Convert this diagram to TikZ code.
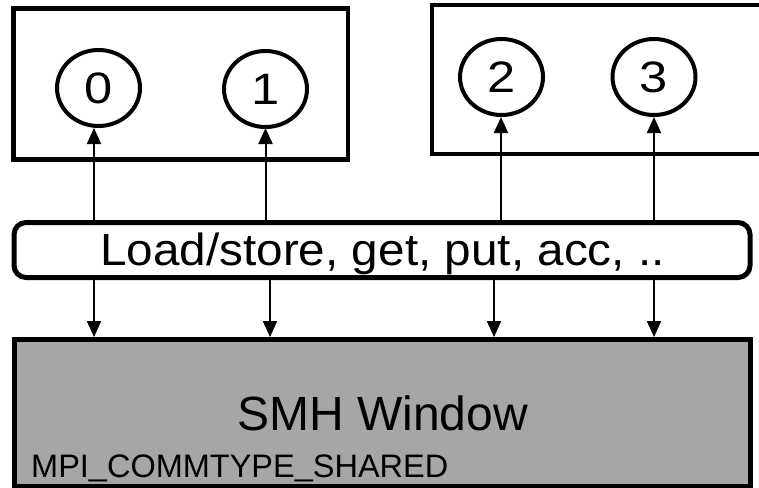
\documentclass[tikz,border=0pt]{standalone}
\usepackage{fontspec}
\setmainfont{Liberation Sans}
\usetikzlibrary{arrows.meta,shapes.geometric}
\definecolor{smhgray}{RGB}{166,166,166}
\newcommand{\us}{\raisebox{2pt}{\char"5F}}
\begin{document}
\begin{tikzpicture}[x=1pt,y=-1pt,
  hostbox/.style={draw,line width=4.5pt,rectangle,inner sep=0pt},
  rankc/.style={draw,line width=4pt,ellipse,inner sep=0pt,minimum width=83pt,minimum height=76pt,font=\fontsize{44}{46}\selectfont},
  opbox/.style={draw,line width=5pt,rectangle,rounded corners=12pt,inner sep=0pt,minimum width=736pt,minimum height=55pt},
  winbox/.style={draw,line width=5pt,rectangle,fill=smhgray,inner sep=0pt,minimum width=736pt,minimum height=147pt},
  arr/.style={line width=2pt,-{Triangle[width=14pt,length=16pt]}},
  txt/.style={inner sep=0pt}]
\clip (0,0) rectangle (759,487);
\fill[white] (0,0) rectangle (759,487);
% host boxes
\node[hostbox,minimum width=334.5pt,minimum height=151pt] (hostA) at (180.75,84) {};
\node[hostbox,minimum width=360pt,minimum height=149pt] (hostB) at (612,79.5) {};
% ranks
\node[rankc] (c0) at (98.5,88) {\scalebox{1.15}[1]{0}};
\node[rankc] (c1) at (265.5,89) {\scalebox{1.15}[1]{1}};
\node[rankc] (c2) at (501.5,77) {\scalebox{1.15}[1]{2}};
\node[rankc] (c3) at (654,77) {\scalebox{1.15}[1]{3}};
% operations box
\node[opbox] (ld) at (382,250) {};
\node[txt,anchor=base,font=\fontsize{45}{48}\selectfont] (ldt) at (382.5,265) {\scalebox{1.06}[1]{Load/store, get, put, acc, ..}};
% window
\node[winbox] (smh) at (382.5,413) {};
\node[txt,anchor=base,font=\fontsize{48}{50}\selectfont] (smht) at (382.5,430) {SMH Window};
\node[txt,anchor=base west,font=\fontsize{32.5}{34}\selectfont] (mpit) at (31,477) {MPI\us COMMTYPE\us SHARED};
% arrow targets
\coordinate (u0) at (94,128);
\coordinate (u1) at (265.5,128);
\coordinate (u2) at (501,117);
\coordinate (u3) at (654,117);
\coordinate (d0) at (94,0);
\coordinate (d1) at (270,0);
\coordinate (d2) at (494,0);
\coordinate (d3) at (654,0);
% up arrows
\draw[arr] (ld.north -| u0) -- (u0);
\draw[arr] (ld.north -| u1) -- (u1);
\draw[arr] (ld.north -| u2) -- (u2);
\draw[arr] (ld.north -| u3) -- (u3);
% down arrows
\draw[arr] (ld.south -| d0) -- (smh.north -| d0);
\draw[arr] (ld.south -| d1) -- (smh.north -| d1);
\draw[arr] (ld.south -| d2) -- (smh.north -| d2);
\draw[arr] (ld.south -| d3) -- (smh.north -| d3);
\end{tikzpicture}
\end{document}
